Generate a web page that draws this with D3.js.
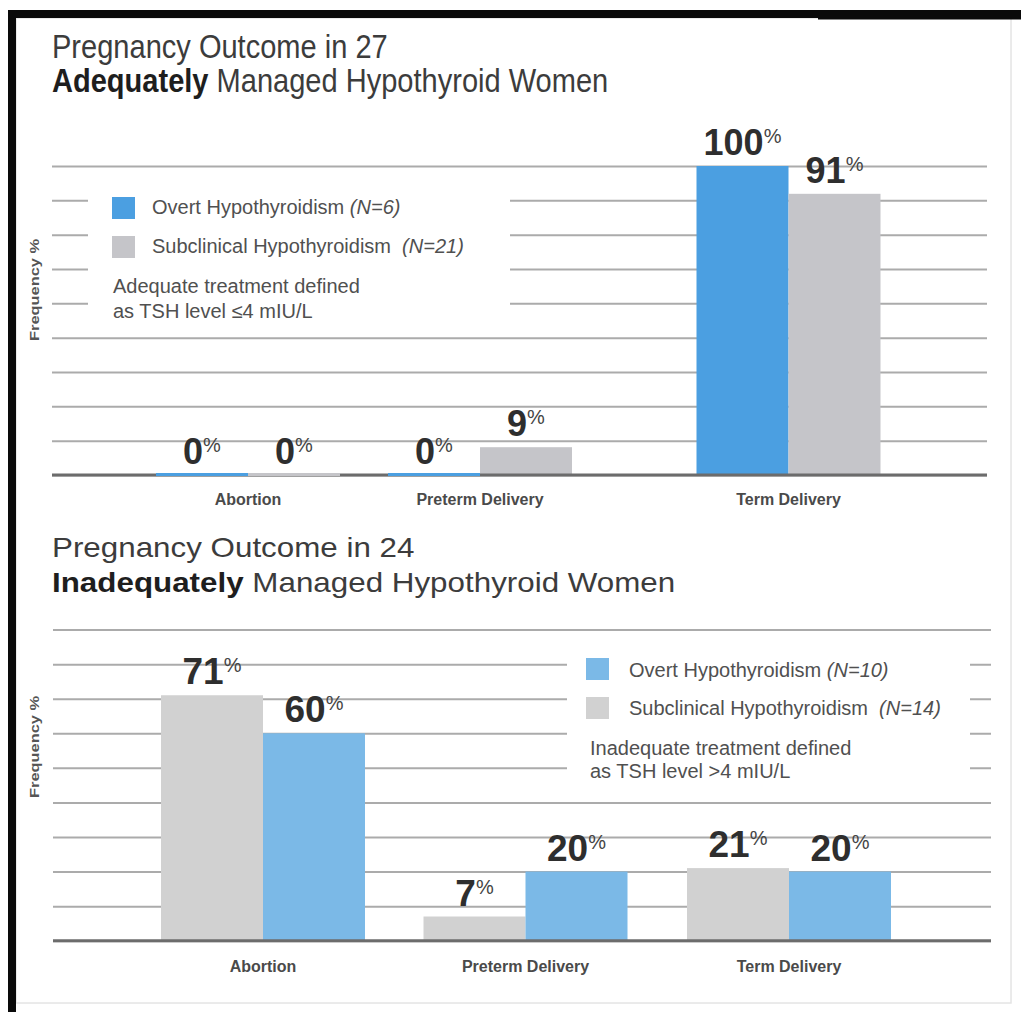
<!DOCTYPE html>
<html><head><meta charset="utf-8">
<script src="https://cdn.jsdelivr.net/npm/d3@7"></script>
<style>
body{margin:0;background:#fff}
svg{display:block}
text{font-family:"Liberation Sans",Arial,Helvetica,sans-serif}
</style>
</head><body>
<svg id="c" width="1021" height="1012"></svg>
<script>
// ---------- data ----------
const categories = ["Abortion", "Preterm Delivery", "Term Delivery"];
const seriesKeys = ["overt", "sub"];
const seriesLabels = ["Overt Hypothyroidism", "Subclinical Hypothyroidism"];
const adequateOvert = [0, 0, 100];
const adequateSubclinical = [0, 9, 91];
const inadequateOvert = [60, 20, 20];
const inadequateSubclinical = [71, 7, 21];
const adequateN = ["(N=6)", "(N=21)"];
const inadequateN = ["(N=10)", "(N=14)"];
const adequateGrid = [0, 11.11, 22.22, 33.33, 44.44, 55.56, 66.67, 77.78, 88.89, 100];
const inadequateGrid = [0, 10, 20, 30, 40, 50, 60, 70, 80, 90];
const adequateTitle = ["Pregnancy Outcome in 27", "Adequately", " Managed Hypothyroid Women"];
const inadequateTitle = ["Pregnancy Outcome in 24", "Inadequately", " Managed Hypothyroid Women"];
const adequateNote = ["Adequate treatment defined", "as TSH level \u22644 mIU/L"];
const inadequateNote = ["Inadequate treatment defined", "as TSH level >4 mIU/L"];
const yLabel = "Frequency %";

const svg = d3.select("#c");
svg.append("rect").attr("width", 1021).attr("height", 1012).attr("fill", "#fff");

// frame
svg.append("rect").attr("x", 16).attr("y", 18).attr("width", 995).attr("height", 985)
  .attr("fill", "none").attr("stroke", "#e4e4e4").attr("stroke-width", 1.5);
svg.append("rect").attr("x", 8).attr("y", 10).attr("width", 1013).attr("height", 8).attr("fill", "#0a0a0a");
svg.append("rect").attr("x", 818).attr("y", 10).attr("width", 203).attr("height", 9.5).attr("fill", "#0a0a0a");
svg.append("rect").attr("x", 8).attr("y", 10).attr("width", 8).attr("height", 1002).attr("fill", "#0a0a0a");

function drawChart(cfg) {
  const g = svg.append("g");
  const y = d3.scaleLinear().domain([0, 100]).range([cfg.y0, cfg.y100]);
  const x0 = d3.scaleOrdinal().domain(categories).range(cfg.centers);
  const x1 = d3.scaleBand().domain(cfg.order).range([-cfg.barW, cfg.barW]).padding(0);
  const values = {overt: cfg.overt, sub: cfg.sub};

  // title
  const t1 = g.append("g").attr("transform", `translate(${cfg.titleX},${cfg.titleY1}) scale(${cfg.titleSX},1)`);
  t1.append("text").attr("font-size", cfg.titleSize).attr("fill", "#3c3c3c").text(cfg.title[0]);
  const t2 = g.append("g").attr("transform", `translate(${cfg.titleX},${cfg.titleY2}) scale(${cfg.titleSX},1)`);
  const tt = t2.append("text").attr("font-size", cfg.titleSize).attr("fill", "#3c3c3c");
  tt.append("tspan").attr("font-weight", "bold").attr("fill", "#1e1e1e").text(cfg.title[1]);
  tt.append("tspan").text(cfg.title[2]);

  // gridlines via axis
  const grid = g.append("g").attr("transform", `translate(${cfg.gridX[0]},0)`)
    .call(d3.axisLeft(y).tickValues(cfg.grid).tickSize(-(cfg.gridX[1] - cfg.gridX[0])).tickFormat(""));
  grid.select(".domain").remove();
  grid.selectAll(".tick line").attr("stroke", "#ababab").attr("stroke-width", 2);

  // legend background (interrupts gridlines)
  g.append("rect").attr("x", cfg.legBg[0]).attr("y", cfg.legBg[1]).attr("width", cfg.legBg[2]).attr("height", cfg.legBg[3]).attr("fill", "#fff");

  // y label
  g.append("text").attr("transform", `translate(${cfg.yLabX},${cfg.yLabY}) rotate(-90)`)
    .attr("text-anchor", "middle").attr("font-size", 13).attr("font-weight", "bold").attr("fill", "#555")
    .attr("textLength", 102).attr("lengthAdjust", "spacingAndGlyphs").text(yLabel);

  const bars = [];
  categories.forEach((c, i) => cfg.order.forEach(k => bars.push({c, k, v: values[k][i]})));

  g.selectAll("rect.bar").data(bars.filter(d => d.v > 0)).join("rect").attr("class", "bar")
    .attr("x", d => x0(d.c) + x1(d.k)).attr("width", x1.bandwidth())
    .attr("y", d => y(d.v)).attr("height", d => y(0) - y(d.v))
    .attr("fill", d => cfg.colors[d.k]);

  // baseline
  g.append("line").attr("x1", cfg.gridX[0]).attr("x2", cfg.gridX[1]).attr("y1", y(0)).attr("y2", y(0))
    .attr("stroke", "#6c6c6c").attr("stroke-width", 3);

  // zero-value stubs
  g.selectAll("rect.zero").data(bars.filter(d => d.v === 0)).join("rect").attr("class", "zero")
    .attr("x", d => x0(d.c) + x1(d.k)).attr("width", x1.bandwidth())
    .attr("y", y(0) - 2).attr("height", 3)
    .attr("fill", d => cfg.colors[d.k]);

  // value labels
  const lab = g.selectAll("text.val").data(bars).join("text").attr("class", "val")
    .attr("x", d => x0(d.c) + x1(d.k) + x1.bandwidth() / 2)
    .attr("y", d => y(d.v) - 11)
    .attr("text-anchor", "middle").attr("fill", "#2e2e2e");
  lab.append("tspan").attr("font-size", cfg.valSize).attr("font-weight", "bold").text(d => d.v);
  lab.append("tspan").attr("font-size", 20).attr("dy", -12).attr("fill", "#444").text("%");

  // category labels
  g.selectAll("text.cat").data(categories).join("text").attr("class", "cat")
    .attr("x", d => x0(d)).attr("y", cfg.catY).attr("text-anchor", "middle")
    .attr("font-size", 16).attr("font-weight", "bold").attr("fill", "#4a4a4a").text(d => d);

  // legend
  seriesKeys.forEach((k, i) => {
    g.append("rect").attr("x", cfg.legX).attr("y", cfg.legSqY[i]).attr("width", 23).attr("height", 22).attr("fill", cfg.colors[k]);
    const lt = g.append("text").attr("x", cfg.legTX).attr("y", cfg.legTY[i]).attr("font-size", 20).attr("fill", "#505050")
      .style("white-space", "pre");
    lt.append("tspan").text(seriesLabels[i] + (i === 1 ? "  " : " "));
    lt.append("tspan").attr("font-style", "italic").text(cfg.n[i]);
  });
  cfg.note.forEach((s, i) => {
    g.append("text").attr("x", cfg.noteX).attr("y", cfg.noteY[i]).attr("font-size", 20).attr("fill", "#505050").text(s);
  });
}

drawChart({
  title: adequateTitle, titleX: 52, titleY1: 58, titleY2: 92, titleSize: 33, titleSX: 0.88,
  overt: adequateOvert, sub: adequateSubclinical, n: adequateN, note: adequateNote,
  order: ["overt", "sub"], colors: {overt: "#4b9fe1", sub: "#c5c5c9"},
  y0: 475, y100: 166, grid: adequateGrid, gridX: [52, 987],
  centers: [248, 480, 788.5], barW: 92, valSize: 36, catY: 505,
  legBg: [88, 186, 422, 136], yLabX: 39, yLabY: 290,
  legX: 112, legSqY: [197, 236], legTX: 152, legTY: [213.5, 253], noteX: 113, noteY: [293, 318]
});

drawChart({
  title: inadequateTitle, titleX: 52, titleY1: 557, titleY2: 592, titleSize: 28, titleSX: 1.12,
  overt: inadequateOvert, sub: inadequateSubclinical, n: inadequateN, note: inadequateNote,
  order: ["sub", "overt"], colors: {overt: "#7bb9e7", sub: "#d1d1d1"},
  y0: 940.7, y100: 595, grid: inadequateGrid, gridX: [53, 991],
  centers: [263, 525.5, 789], barW: 102, valSize: 37, catY: 972,
  legBg: [567, 650, 403, 136], yLabX: 39, yLabY: 747,
  legX: 586, legSqY: [658, 697], legTX: 629, legTY: [677, 715], noteX: 590, noteY: [755, 778]
});
</script>
</body></html>
